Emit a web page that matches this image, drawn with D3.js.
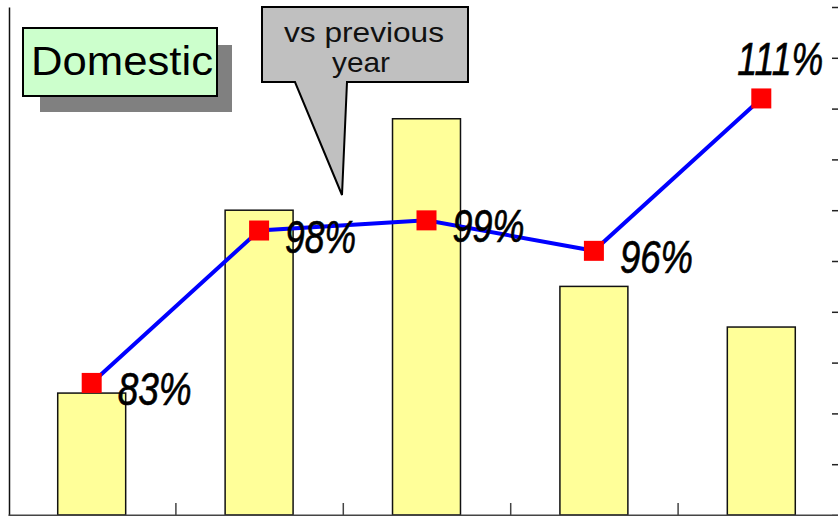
<!DOCTYPE html>
<html>
<head>
<meta charset="utf-8">
<script src="https://cdn.jsdelivr.net/npm/d3@7"></script>
<style>
  html, body { margin: 0; padding: 0; background: #ffffff; }
  svg { display: block; }
</style>
</head>
<body>
<svg id="chart" width="838" height="516"></svg>
<script>
// Domestic volume by period (bars, left scale) and year-over-year ratio (line, right scale)
const categories = ["P1", "P2", "P3", "P4", "P5"];
const volumes = [2.4, 6.0, 7.8, 4.5, 3.7];
const ratios = [83, 98, 99, 96, 111];
const ratioLabels = ["83%", "98%", "99%", "96%", "111%"];
const ratioTicks = [70, 75, 80, 85, 90, 95, 100, 105, 110, 115, 120];

const svg = d3.select("#chart");

const plot = { left: 8, right: 845, top: 7, bottom: 515 };

const x = d3.scaleBand()
  .domain(categories)
  .range([plot.left, plot.right])
  .padding(0);

// category boundaries for bottom tick marks
const xEdge = d3.scaleLinear()
  .domain([0, categories.length])
  .range([plot.left, plot.right]);

const yLeft = d3.scaleLinear().domain([0, 10]).range([plot.bottom, plot.top]);
const yRight = d3.scaleLinear().domain([70, 120]).range([plot.bottom, plot.top]);

const barW = x.bandwidth() * 0.406;

// bars
svg.append("g")
  .selectAll("rect")
  .data(volumes)
  .join("rect")
  .attr("x", (d, i) => x(categories[i]) + x.bandwidth() / 2 - barW / 2)
  .attr("y", d => yLeft(d))
  .attr("width", barW)
  .attr("height", d => yLeft(0) - yLeft(d))
  .attr("fill", "#FFFF99")
  .attr("stroke", "#111")
  .attr("stroke-width", 1.5);

// left axis line
svg.append("g")
  .attr("transform", `translate(${plot.left + 1},0)`)
  .call(d3.axisLeft(yLeft).tickValues([]).tickSizeOuter(0))
  .call(g => g.select(".domain").attr("stroke", "#111").attr("stroke-width", 1.5));

// right axis (ticks pointing inward)
svg.append("g")
  .attr("transform", `translate(${plot.right - 7},0)`)
  .call(d3.axisRight(yRight).tickValues(ratioTicks).tickSize(-6).tickSizeOuter(0).tickFormat(""))
  .call(g => g.selectAll(".tick line").attr("stroke", "#222").attr("stroke-width", 1.5))
  .call(g => g.select(".domain").attr("stroke", "none"));

// bottom axis with category separators
svg.append("g")
  .attr("transform", `translate(0,${plot.bottom})`)
  .call(d3.axisBottom(xEdge).tickValues([1, 2, 3, 4]).tickSize(-12).tickSizeOuter(0).tickFormat(""))
  .call(g => g.select(".domain").attr("stroke", "#444").attr("stroke-width", 2))
  .call(g => g.selectAll(".tick line").attr("stroke", "#444").attr("stroke-width", 1.5));

// ratio line
const cx = i => x(categories[i]) + x.bandwidth() / 2;
const line = d3.line()
  .x((d, i) => cx(i))
  .y(d => yRight(d));

svg.append("path")
  .datum(ratios)
  .attr("d", line)
  .attr("fill", "none")
  .attr("stroke", "#0000FF")
  .attr("stroke-width", 4);

const mk = 20;
svg.append("g")
  .selectAll("rect")
  .data(ratios)
  .join("rect")
  .attr("x", (d, i) => cx(i) - mk / 2)
  .attr("y", d => yRight(d) - mk / 2)
  .attr("width", mk)
  .attr("height", mk)
  .attr("fill", "#FF0000");

// ratio labels: below-right of each point, the last one above; tall narrow italic
const labelWidths = [74, 71, 72, 73, 86];
const last = ratios.length - 1;
svg.append("g")
  .selectAll("text")
  .data(ratios)
  .join("text")
  .attr("transform", (d, i) => {
    const tx = i === last ? cx(i) - 24 : cx(i) + 26;
    const ty = i === last ? yRight(d) - 23 : yRight(d) + 22;
    return `translate(${tx},${ty}) scale(1,1.28)`;
  })
  .attr("textLength", (d, i) => labelWidths[i])
  .attr("lengthAdjust", "spacingAndGlyphs")
  .attr("font-family", "'Liberation Sans', Arial, sans-serif")
  .attr("font-style", "italic")
  .attr("font-size", 36)
  .attr("fill", "#000")
  .attr("stroke", "#000")
  .attr("stroke-width", 0.5)
  .text((d, i) => ratioLabels[i]);

// "Domestic" title box with drop shadow
const title = svg.append("g");
title.append("rect")
  .attr("x", 40).attr("y", 45).attr("width", 192).attr("height", 67)
  .attr("fill", "#808080");
title.append("rect")
  .attr("x", 23).attr("y", 28).attr("width", 194).attr("height", 68)
  .attr("fill", "#CCFFCC")
  .attr("stroke", "#000")
  .attr("stroke-width", 2);
title.append("text")
  .attr("x", 31).attr("y", 75)
  .attr("textLength", 182)
  .attr("lengthAdjust", "spacingAndGlyphs")
  .attr("font-family", "'Liberation Sans', Arial, sans-serif")
  .attr("font-size", 40)
  .attr("fill", "#000")
  .text("Domestic");

// callout explaining the line
const callout = svg.append("g");
callout.append("path")
  .attr("d", "M262,7 H468 V82 H347 L342,195 L295,82 H262 Z")
  .attr("fill", "#C0C0C0")
  .attr("stroke", "#000")
  .attr("stroke-width", 2)
  .attr("stroke-linejoin", "miter");
callout.append("text")
  .attr("x", 364).attr("y", 42)
  .attr("text-anchor", "middle")
  .attr("textLength", 160)
  .attr("lengthAdjust", "spacingAndGlyphs")
  .attr("font-family", "'Liberation Sans', Arial, sans-serif")
  .attr("font-size", 28)
  .attr("fill", "#111")
  .text("vs previous");
callout.append("text")
  .attr("x", 361).attr("y", 72)
  .attr("text-anchor", "middle")
  .attr("textLength", 58)
  .attr("lengthAdjust", "spacingAndGlyphs")
  .attr("font-family", "'Liberation Sans', Arial, sans-serif")
  .attr("font-size", 28)
  .attr("fill", "#111")
  .text("year");
</script>
</body>
</html>
